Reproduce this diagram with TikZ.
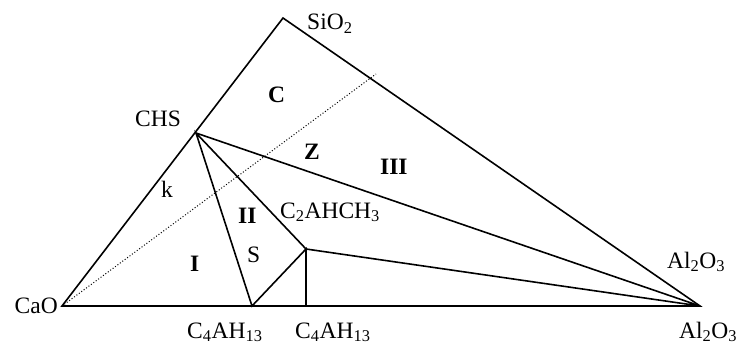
\documentclass[tikz,border=0pt]{standalone}
\usepackage{fontspec}
\setmainfont{Liberation Serif}
\usetikzlibrary{positioning}
\tikzset{
  linea/.style={line width=1.6pt, line join=miter},
  lineaPunteada/.style={line width=1pt, dotted},
  etiqueta/.style={inner sep=0pt, anchor=base west, font=\fontsize{23.5}{28}\selectfont},
  etiquetaRegion/.style={etiqueta, font=\fontsize{23.5}{28}\selectfont\bfseries},
}

\begin{document}
\begin{tikzpicture}[x=1pt, y=-1pt]
  \useasboundingbox (0,0) rectangle (738,345);
  \coordinate (cao) at (62,306);
  \coordinate (sio) at (283,18);
  \coordinate (alo) at (700,306);
  \coordinate (chs) at (196,133);
  \coordinate (cafA) at (252,306);
  \coordinate (cafB) at (306,306);
  \coordinate (cach) at (306,249);
  \coordinate (fin) at (376,74);

  \draw[lineaPunteada] (cao) -- (fin);
  \draw[linea] (cao) -- (sio) -- (alo) -- cycle;
  \draw[linea] (chs) -- (alo) -- (cach) -- (chs) -- (cafA) -- (cach) -- (cafB);

  \node[left=4pt of cao, inner sep=0pt, font=\fontsize{23.5}{28}\selectfont] (lCaO) {CaO};
  \node[etiqueta] (lSiO) at (307,30) {SiO\textsubscript{2}};
  \node[etiqueta] (lAlA) at (667,268) {Al\textsubscript{2}O\textsubscript{3}};
  \node[etiqueta] (lAlB) at (679,338) {Al\textsubscript{2}O\textsubscript{3}};
  \node[etiqueta] (lCHS) at (135,126) {CHS};
  \node[etiqueta] (lCach) at (280,218) {C\textsubscript{2}AHCH\textsubscript{3}};
  \node[etiqueta] (lCafA) at (187,338) {C\textsubscript{4}AH\textsubscript{13}};
  \node[etiqueta] (lCafB) at (295,338) {C\textsubscript{4}AH\textsubscript{13}};
  \node[etiqueta] (lk) at (161,197) {k};
  \node[etiqueta] (lS) at (247,262) {S};
  \node[etiquetaRegion] (rC) at (268,102) {C};
  \node[etiquetaRegion] (rZ) at (304,159) {Z};
  \node[etiquetaRegion] (rI) at (190,271) {I};
  \node[etiquetaRegion] (rII) at (238,223) {II};
  \node[etiquetaRegion] (rIII) at (380,174) {III};
\end{tikzpicture}
\end{document}
